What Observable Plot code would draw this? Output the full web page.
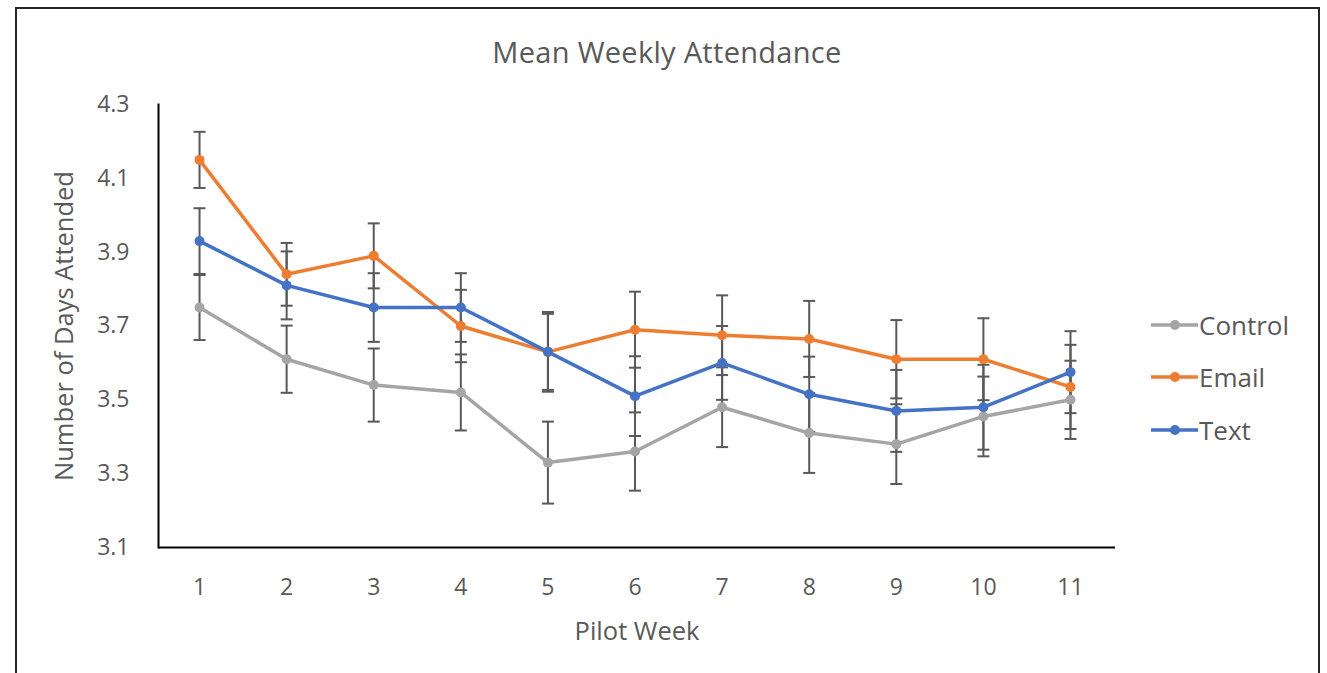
<!DOCTYPE html>
<html>
<head>
<meta charset="utf-8">
<script src="https://cdn.jsdelivr.net/npm/d3@7"></script>
<script src="https://cdn.jsdelivr.net/npm/@observablehq/plot@0.6"></script>
<style>
  html, body { margin: 0; padding: 0; background: #fff; }
  #wrap { position: relative; width: 1327px; height: 673px; overflow: hidden; font-family: "Open Sans", sans-serif; color: #595959; }
  #frame { position: absolute; left: 15px; top: 7px; width: 1305px; height: 720px; border: 2px solid #262626; box-sizing: border-box; }
  #title { position: absolute; left: 0; width: 1334px; top: 37px; text-align: center; font-size: 29px; line-height: 30px; letter-spacing: 0.3px; }
  #chart { position: absolute; left: 0; top: 0; }
  #legend { position: absolute; left: 1150px; top: 0; }
  .row { position: absolute; left: 0; height: 30px; display: flex; align-items: center; white-space: nowrap; font-size: 26px; }
  .row svg { margin-right: 1px; }
</style>
</head>
<body>
<div id="wrap">
  <div id="frame"></div>
  <div id="chart"></div>
  <div id="title">Mean Weekly Attendance</div>
  <div id="legend"></div>
</div>
<script>
const weeks = [1, 2, 3, 4, 5, 6, 7, 8, 9, 10, 11];
const seriesNames = ["Control", "Email", "Text"];
const seriesColors = ["#A5A5A5", "#ED7D31", "#4472C4"];
const controlMean = [3.75, 3.61, 3.54, 3.52, 3.33, 3.36, 3.48, 3.41, 3.38, 3.455, 3.50];
const emailMean   = [4.15, 3.84, 3.89, 3.70, 3.63, 3.69, 3.675, 3.665, 3.61, 3.61, 3.535];
const textMean    = [3.93, 3.81, 3.75, 3.75, 3.63, 3.51, 3.60, 3.515, 3.47, 3.48, 3.575];
const controlErr  = [0.088, 0.091, 0.099, 0.103, 0.111, 0.106, 0.108, 0.108, 0.108, 0.108, 0.106];
const emailErr    = [0.076, 0.085, 0.088, 0.098, 0.103, 0.103, 0.108, 0.103, 0.106, 0.111, 0.114];
const textErr     = [0.089, 0.092, 0.093, 0.093, 0.108, 0.108, 0.100, 0.102, 0.111, 0.115, 0.111];
const yTicks = [3.1, 3.3, 3.5, 3.7, 3.9, 4.1, 4.3];

const means = [controlMean, emailMean, textMean];
const errs = [controlErr, emailErr, textErr];
const rows = [];
seriesNames.forEach((s, i) => {
  weeks.forEach((w, j) => {
    rows.push({series: s, week: w, mean: means[i][j], lo: means[i][j] - errs[i][j], hi: means[i][j] + errs[i][j]});
  });
});

const capSymbol = {
  draw(context, size) {
    const r = Math.sqrt(size / Math.PI);
    context.moveTo(-r, 0);
    context.lineTo(r, 0);
  }
};

const errColor = "#595959";
const plot = Plot.plot({
  width: 1327,
  height: 673,
  marginLeft: 158,
  marginRight: 212,
  marginTop: 104,
  marginBottom: 126,
  style: {fontFamily: "Open Sans, sans-serif", color: "#595959", background: "transparent", overflow: "visible"},
  x: {type: "point", domain: weeks, padding: 0.494, align: 0.477, round: false},
  y: {domain: [3.1, 4.3]},
  color: {domain: seriesNames, range: seriesColors},
  marks: [
    Plot.axisY({ticks: yTicks, tickSize: 0, tickPadding: 29, tickFormat: d => d.toFixed(1), fontSize: 23,
      label: "Number of Days Attended", labelAnchor: "center", labelOffset: 104, labelArrow: "none"}),
    Plot.axisX({tickSize: 0, tickPadding: 31, fontSize: 23, label: "Pilot Week", labelAnchor: "center", labelOffset: 92, labelArrow: "none"}),
    Plot.ruleX(rows, {x: "week", y1: "lo", y2: "hi", stroke: errColor, strokeWidth: 2}),
    Plot.dot(rows, {x: "week", y: "lo", symbol: capSymbol, r: 6, stroke: errColor, strokeWidth: 2, fill: "none"}),
    Plot.dot(rows, {x: "week", y: "hi", symbol: capSymbol, r: 6, stroke: errColor, strokeWidth: 2, fill: "none"}),
    Plot.line(rows, {x: "week", y: "mean", z: "series", stroke: "series", strokeWidth: 3.5, curve: "linear"}),
    Plot.dot(rows, {x: "week", y: "mean", fill: "series", r: 5}),
    Plot.ruleY([3.1], {stroke: "#000", strokeWidth: 2}),
    Plot.frame({anchor: "left", stroke: "#000", strokeWidth: 2})
  ]
});
document.getElementById("chart").appendChild(plot);
d3.select(plot).selectAll("g[aria-label='y-axis label'] text, g[aria-label='x-axis label'] text").style("font-size", "25.5px");

const legend = d3.select("#legend");
const rowTops = [310, 362, 415];
seriesNames.forEach((s, i) => {
  const row = legend.append("div").attr("class", "row").style("top", rowTops[i] + "px");
  const svg = row.append("svg").attr("width", 48).attr("height", 30);
  svg.append("line").attr("x1", 1).attr("x2", 48).attr("y1", 15).attr("y2", 15).attr("stroke", seriesColors[i]).attr("stroke-width", 3.5);
  svg.append("circle").attr("cx", 25).attr("cy", 15).attr("r", 5).attr("fill", seriesColors[i]);
  row.append("span").text(s);
});
</script>
</body>
</html>
